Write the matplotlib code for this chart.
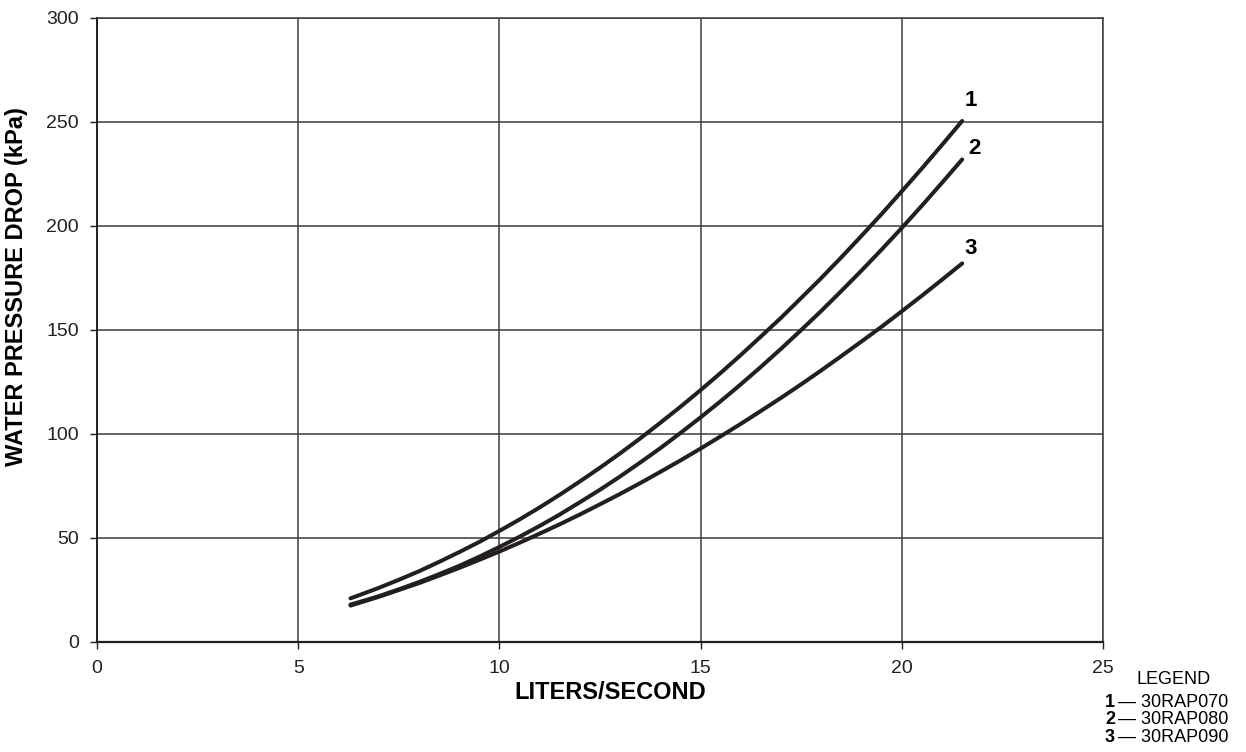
import matplotlib
matplotlib.use("Agg")
import matplotlib.pyplot as plt

plt.rcParams['font.family'] = ['Liberation Sans', 'DejaVu Sans']

# flow (l/s) and pressure drop (kPa)
flow = [6.3, 6.5, 7, 7.5, 8, 8.5, 9, 9.5, 10, 10.5, 11, 11.5, 12, 12.5, 13, 13.5,
        14, 14.5, 15, 15.5, 16, 16.5, 17, 17.5, 18, 18.5, 19, 19.5, 20, 20.5, 21, 21.5]
drop_070 = [21.0, 22.4, 26.0, 29.9, 34.0, 38.5, 43.2, 48.1, 53.4, 58.9, 64.7, 70.8,
            77.2, 83.8, 90.7, 97.9, 105.4, 113.1, 121.1, 129.4, 138.0, 146.9, 155.9,
            165.4, 175.0, 185.0, 195.3, 205.8, 216.7, 227.7, 239.0, 250.5]
drop_080 = [18.0, 19.1, 22.0, 25.3, 28.8, 32.6, 36.6, 41.0, 45.7, 50.6, 55.8, 61.3,
            67.2, 73.2, 79.6, 86.3, 93.2, 100.5, 108.0, 115.8, 123.9, 132.3, 141.0,
            150.0, 159.2, 168.8, 178.6, 188.7, 199.1, 209.8, 220.8, 232.0]
drop_090 = [17.5, 18.7, 21.7, 25.0, 28.3, 31.9, 35.6, 39.5, 43.5, 47.7, 52.1, 56.6,
            61.3, 66.2, 71.2, 76.4, 81.8, 87.3, 93.0, 98.9, 104.9, 111.1, 117.4,
            123.9, 130.6, 137.5, 144.5, 151.6, 159.0, 166.5, 174.2, 182.0]

curve_ids = ['1', '2', '3']
models = ['30RAP070', '30RAP080', '30RAP090']
label_pos = [(21.72, 260.5), (21.8, 237.5), (21.72, 189)]

x_ticks = [0, 5, 10, 15, 20, 25]
y_ticks = [0, 50, 100, 150, 200, 250, 300]

ink = '#231f20'
grid_col = '#3c3c3c'

fig = plt.figure(figsize=(12.46, 7.52), dpi=100)
ax = fig.add_axes([97 / 1246, 110 / 752, 1006 / 1246, 624 / 752])

for ys in (drop_070, drop_080, drop_090):
    ax.plot(flow, ys, color=ink, lw=2.9, solid_capstyle='round',
            solid_joinstyle='round', zorder=3)

for cid, (lx, ly) in zip(curve_ids, label_pos):
    ax.text(lx, ly, cid, fontsize=16, fontweight='bold', color='black',
            ha='center', va='center')

ax.set_xlim(0, 25)
ax.set_ylim(0, 300)
ax.set_xticks(x_ticks)
ax.set_yticks(y_ticks)
ax.grid(True, color=grid_col, lw=1.1)
ax.set_axisbelow(True)
for s in ax.spines.values():
    s.set_color(grid_col)
    s.set_linewidth(1.1)
ax.spines['left'].set_color(ink)
ax.spines['bottom'].set_color(ink)
ax.spines['left'].set_linewidth(1.4)
ax.spines['bottom'].set_linewidth(1.6)
ax.tick_params(direction='out', length=5, width=1.0, color=ink,
               labelsize=14, labelcolor='#222222')
ax.tick_params(axis='x', pad=8)
ax.tick_params(axis='y', pad=8)

ax.set_xlabel('LITERS/SECOND', fontsize=17, fontweight='bold')
ax.xaxis.set_label_coords(0.51, -0.063)
ax.set_ylabel('WATER PRESSURE DROP (kPa)', fontsize=17, fontweight='bold')
ax.yaxis.set_label_coords(-0.069, 0.57)

# legend block at lower right
fig.text(1174 / 1246, 1 - 679 / 752, 'LEGEND', fontsize=13, ha='center', va='center')
row_y = [702.5, 719.5, 737]
for cid, m, ry in zip(curve_ids, models, row_y):
    fy = 1 - ry / 752
    fig.text(1105 / 1246, fy, cid, fontsize=13, fontweight='bold', ha='left', va='center')
    fig.text(1118 / 1246, fy, '\u2014 ' + m, fontsize=13, ha='left', va='center')

fig.savefig('out.png', dpi=100)
